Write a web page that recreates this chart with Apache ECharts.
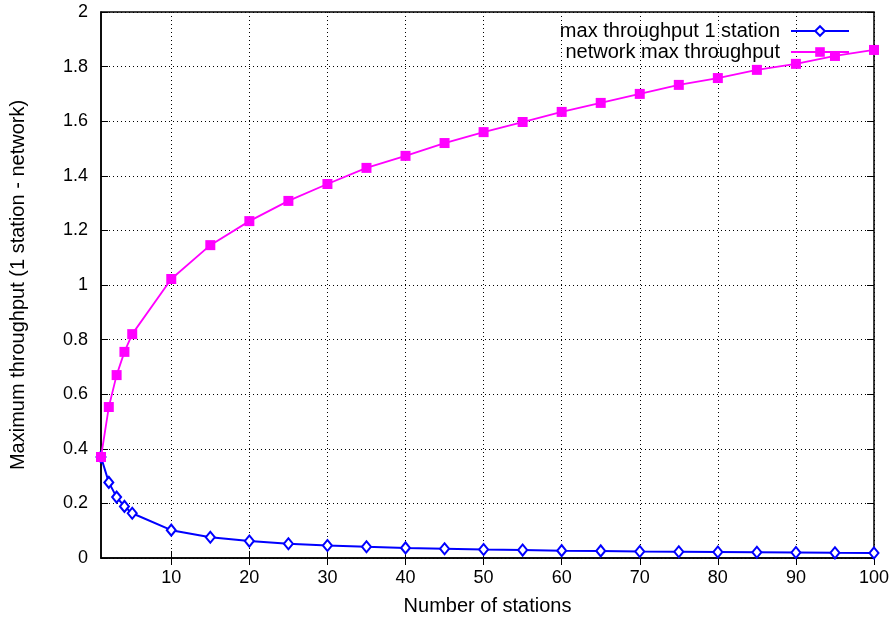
<!DOCTYPE html>
<html>
<head>
<meta charset="utf-8">
<script src="https://cdn.jsdelivr.net/npm/echarts@6/dist/echarts.min.js"></script>
<style>
html,body{margin:0;padding:0;background:#fff;}
#chart{width:895px;height:626px;}
</style>
</head>
<body>
<div id="chart"></div>
<script>
// stations
var stations = [1,2,3,4,5,10,15,20,25,30,35,40,45,50,55,60,65,70,75,80,85,90,95,100];
// max throughput of a single station
var oneStation = [0.37,0.277,0.223,0.189,0.164,0.102,0.076,0.062,0.052,0.046,0.041,0.037,0.034,0.031,0.029,0.027,0.026,0.024,0.023,0.022,0.021,0.020,0.019,0.0186];
// network max throughput
var network = [0.37,0.553,0.670,0.755,0.820,1.022,1.146,1.234,1.308,1.370,1.429,1.473,1.520,1.560,1.597,1.634,1.667,1.700,1.733,1.758,1.788,1.810,1.839,1.861];
var xTicks = [10,20,30,40,50,60,70,80,90,100];

var font = 'Liberation Sans, Arial, sans-serif';

function pairs(ys){
	var out = [];
	for(var i=0;i<stations.length;i++){ out.push([stations[i], ys[i]]); }
	return out;
}

var myChart = echarts.init(document.getElementById('chart'));
var option = {
	animation:false,
	backgroundColor:'#fff',
	textStyle:{fontFamily:font},
	grid:{left:101,right:21,top:12,bottom:68,show:true,borderColor:'#000',borderWidth:1.5,backgroundColor:'transparent'},
	legend:{
		right:40, top:16, orient:'vertical', align:'right',
		itemWidth:58, itemHeight:12, itemGap:1,
		textStyle:{fontSize:20,color:'#000',fontFamily:font,padding:[0,6,0,0]},
		data:['max throughput 1 station','network max throughput']
	},
	xAxis:[{
		type:'value', min:1, max:100,
		name:'Number of stations', nameLocation:'middle', nameGap:38,
		nameTextStyle:{fontSize:20,color:'#000',fontFamily:font},
		axisLine:{show:true,lineStyle:{color:'#000',width:1.5}},
		axisTick:{show:true,inside:true,length:7,customValues:xTicks,lineStyle:{color:'#000'}},
		axisLabel:{customValues:xTicks,fontSize:18,color:'#000',margin:11,fontFamily:font},
		splitLine:{show:true,lineStyle:{color:'#000',type:[1,3],width:1}}
	},{
		type:'value', min:1, max:100, position:'top',
		axisLine:{show:false},
		axisTick:{show:true,inside:true,length:7,customValues:xTicks,lineStyle:{color:'#000'}},
		axisLabel:{show:false},
		splitLine:{show:false}
	}],
	yAxis:[{
		type:'value', min:0, max:2, interval:0.2,
		name:'Maximum throughput (1 station - network)', nameLocation:'middle', nameGap:73,
		nameTextStyle:{fontSize:20,color:'#000',fontFamily:font},
		axisLine:{show:true,lineStyle:{color:'#000',width:1.5}},
		axisTick:{show:true,inside:true,length:7,lineStyle:{color:'#000'}},
		axisLabel:{fontSize:18,color:'#000',margin:13,fontFamily:font},
		splitLine:{show:true,lineStyle:{color:'#000',type:[1,3],width:1}}
	},{
		type:'value', min:0, max:2, interval:0.2, position:'right',
		axisLine:{show:false},
		axisTick:{show:true,inside:true,length:7,lineStyle:{color:'#000'}},
		axisLabel:{show:false},
		splitLine:{show:false}
	}],
	series:[{
		name:'max throughput 1 station',
		type:'line',
		data:pairs(oneStation),
		color:'#0000ff',
		symbol:'diamond', symbolSize:[9,11],
		itemStyle:{color:'#fff',borderColor:'#0000ff',borderWidth:2},
		lineStyle:{color:'#0000ff',width:2},
		z:3
	},{
		name:'network max throughput',
		type:'line',
		data:pairs(network),
		color:'#ff00ff',
		symbol:'rect', symbolSize:10,
		itemStyle:{color:'#ff00ff'},
		lineStyle:{color:'#ff00ff',width:1.8},
		z:4
	}]
};
myChart.setOption(option);
</script>
</body>
</html>
